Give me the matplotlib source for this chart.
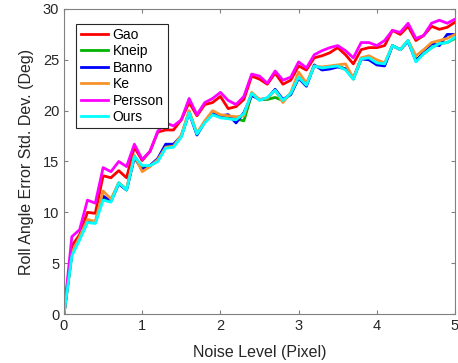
import numpy as np
import matplotlib
matplotlib.use('Agg')
import matplotlib.pyplot as plt

plt.rcParams['font.family'] = ['Liberation Sans', 'DejaVu Sans']

# noise levels 0 .. 5 pixel, step 0.1
noise = [round(0.1 * i, 1) for i in range(51)]

gao = [0, 6.7, 7.8, 10.0, 9.9, 13.6, 13.4, 14.1, 13.4, 16.4,
       15.1, 16.0, 17.9, 18.1, 18.1, 19.1, 20.8, 19.5, 20.6, 20.8,
       21.4, 20.2, 20.4, 21.1, 23.4, 23.1, 22.6, 23.7, 22.6, 23.0,
       24.4, 24.0, 25.2, 25.4, 25.7, 26.2, 25.5, 24.6, 26.0, 26.2,
       26.2, 26.4, 27.9, 27.5, 28.3, 26.9, 27.4, 28.3, 28.0, 28.2, 28.7]
kneip = [0, 5.9, 7.4, 9.1, 9.0, 11.5, 11.1, 12.9, 12.2, 15.5,
         14.3, 14.6, 15.1, 16.5, 16.5, 17.5, 19.9, 17.7, 18.9, 19.7,
         19.5, 19.4, 19.2, 19.0, 21.6, 21.1, 21.1, 21.3, 21.0, 21.6,
         23.3, 22.6, 24.4, 24.2, 24.3, 24.4, 24.1, 23.1, 25.1, 25.1,
         24.6, 24.5, 26.4, 26.0, 26.9, 25.0, 25.6, 26.2, 26.6, 26.7, 27.1]
banno = [0, 5.9, 7.5, 9.1, 9.0, 11.6, 11.1, 12.8, 12.2, 15.4,
         14.2, 14.6, 15.3, 16.7, 16.7, 17.5, 19.8, 17.6, 18.9, 19.7,
         19.5, 19.6, 18.8, 19.8, 21.5, 21.1, 21.2, 22.1, 21.1, 21.6,
         23.2, 22.4, 24.5, 24.0, 24.1, 24.3, 24.1, 23.2, 25.1, 25.0,
         24.5, 24.4, 26.4, 26.0, 26.8, 24.9, 25.7, 26.6, 26.4, 27.5, 27.5]
ke = [0, 6.0, 7.6, 9.3, 9.1, 12.1, 11.3, 12.9, 12.3, 15.6,
      14.0, 14.5, 15.2, 16.4, 16.5, 17.6, 20.0, 17.8, 19.0, 20.0,
      19.6, 19.5, 19.4, 19.5, 21.8, 21.1, 21.2, 22.0, 20.8, 21.8,
      23.8, 22.7, 24.4, 24.3, 24.4, 24.5, 24.6, 23.2, 25.2, 25.4,
      25.0, 24.7, 26.4, 26.0, 26.9, 25.4, 26.0, 26.7, 26.9, 27.1, 27.5]
persson = [0, 7.6, 8.3, 11.2, 10.9, 14.4, 14.0, 15.0, 14.5, 16.7,
           15.2, 16.0, 18.0, 18.8, 18.5, 19.1, 21.2, 19.6, 20.8, 21.2,
           21.8, 21.0, 20.6, 21.4, 23.6, 23.4, 22.7, 23.9, 23.0, 23.3,
           24.8, 24.2, 25.5, 25.9, 26.2, 26.4, 25.9, 25.2, 26.7, 26.7,
           26.4, 26.9, 27.9, 27.7, 28.6, 27.1, 27.4, 28.6, 28.9, 28.6, 29.0]
ours = [0, 5.7, 7.3, 9.0, 8.9, 11.2, 11.0, 12.9, 12.2, 15.5,
        14.6, 14.6, 15.0, 16.3, 16.4, 17.4, 19.8, 17.7, 18.8, 19.6,
        19.3, 19.2, 19.1, 19.7, 21.7, 21.0, 21.3, 22.0, 21.0, 21.7,
        23.3, 22.5, 24.4, 24.2, 24.3, 24.4, 24.0, 23.1, 25.1, 25.2,
        24.7, 24.6, 26.4, 26.0, 26.9, 24.8, 25.6, 26.2, 26.6, 26.7, 27.2]

methods = ['Gao', 'Kneip', 'Banno', 'Ke', 'Persson', 'Ours']
series = [gao, kneip, banno, ke, persson, ours]
colors = ['#ff0000', '#00b400', '#0000ff', '#f8922c', '#ff00ff', '#00ffff']

fig = plt.figure(figsize=(4.58, 3.63), dpi=100)
ax = fig.add_axes([64 / 458, 49 / 363, 391 / 458, 305 / 363])

for name, vals, c in zip(methods, series, colors):
    ax.plot(noise, vals, color=c, linewidth=2.0, label=name)

ax.set_xlim(0, 5)
ax.set_ylim(0, 30)
ax.set_xticks(range(0, 6))
ax.set_yticks(range(0, 31, 5))

axis_col = '#262626'
for s in ax.spines.values():
    s.set_color('#808080')
    s.set_linewidth(0.8)
ax.tick_params(direction='in', top=True, right=True, length=3,
               color='#808080', labelcolor=axis_col, labelsize=10.5)

ax.set_xlabel('Noise Level (Pixel)', fontsize=11.5, color=axis_col, labelpad=9)
ax.set_ylabel('Roll Angle Error Std. Dev. (Deg)', fontsize=11.5, color=axis_col, labelpad=6)

leg = ax.legend(loc='upper left', bbox_to_anchor=(0.014, 0.975), fontsize=10,
                handlelength=2.0, handletextpad=0.3, labelspacing=0.18,
                borderpad=0.3, fancybox=False, framealpha=1)
leg.get_frame().set_edgecolor('#262626')
leg.get_frame().set_linewidth(0.8)

plt.savefig('out.png', dpi=100)
